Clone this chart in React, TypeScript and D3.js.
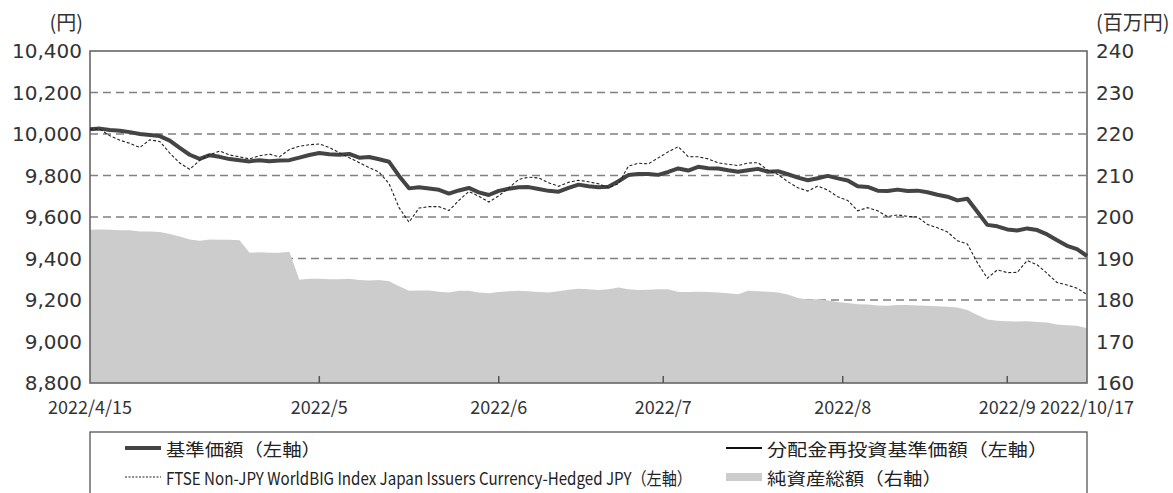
import React, { useRef, useEffect } from 'react';
import * as d3 from 'd3';

// 基準価額 (yen), one value per plotted day
const navValues = [
  10023, 10026, 10019, 10016, 10009, 10000, 9995, 9990, 9968, 9933,
  9900, 9880, 9898, 9890, 9879, 9873, 9868, 9874, 9869, 9872,
  9874, 9886, 9899, 9908, 9902, 9900, 9904, 9886, 9889, 9878,
  9866, 9798, 9738, 9743, 9737, 9731, 9713, 9728, 9740, 9719,
  9706, 9726, 9736, 9743, 9744, 9735, 9726, 9722, 9740, 9756,
  9748, 9743, 9746, 9772, 9802, 9807, 9807, 9803, 9817, 9834,
  9824, 9842, 9835, 9834, 9825, 9818, 9825, 9832, 9818, 9821,
  9806, 9790, 9777, 9787, 9798, 9786, 9776, 9748, 9745, 9727,
  9725, 9732, 9725, 9727, 9719, 9707, 9698, 9680, 9688, 9625,
  9562, 9555, 9540, 9535, 9545, 9537, 9516, 9488, 9461, 9445,
  9412,
];

// 分配金再投資基準価額: no distributions in the period, so it sits on the NAV
const reinvestValues = navValues;

// FTSE Non-JPY WorldBIG Index Japan Issuers Currency-Hedged JPY (rebased)
const indexValues = [
  10024, 10023, 9991, 9970, 9955, 9935, 9972, 9964, 9908, 9860,
  9830, 9873, 9900, 9918, 9899, 9890, 9880, 9895, 9903, 9890,
  9925, 9941, 9948, 9952, 9935, 9910, 9886, 9862, 9838, 9816,
  9760, 9645, 9575, 9643, 9650, 9650, 9631, 9680, 9723, 9700,
  9672, 9702, 9740, 9781, 9792, 9788, 9765, 9748, 9767, 9777,
  9770, 9760, 9741, 9760, 9845, 9859, 9856, 9885, 9914, 9939,
  9891, 9890, 9880, 9861, 9854, 9848, 9860, 9862, 9825, 9805,
  9770, 9741, 9725, 9749, 9730, 9697, 9680, 9630, 9645, 9630,
  9602, 9610, 9603, 9600, 9564, 9548, 9528, 9486, 9470, 9380,
  9305, 9345, 9332, 9333, 9390, 9370, 9328, 9284, 9272, 9257,
  9226,
];

// 純資産総額 (million yen, right axis)
const netAssets = [
  196.9, 197.0, 196.9, 196.8, 196.8, 196.5, 196.5, 196.4, 195.9, 195.3,
  194.6, 194.3, 194.6, 194.5, 194.5, 194.4, 191.4, 191.5, 191.4, 191.4,
  191.6, 184.9, 185.1, 185.1, 185.0, 185.0, 185.1, 184.8, 184.7, 184.8,
  184.5, 183.3, 182.2, 182.3, 182.3, 182.0, 181.8, 182.2, 182.2, 181.8,
  181.6, 181.9, 182.1, 182.2, 182.1, 181.9, 181.8, 182.1, 182.5, 182.7,
  182.6, 182.4, 182.6, 183.0, 182.6, 182.4, 182.5, 182.6, 182.6, 181.9,
  181.9, 182.0, 181.9, 181.8, 181.6, 181.4, 182.2, 182.1, 182.0, 181.8,
  181.3, 180.5, 180.1, 180.2, 179.9, 179.5, 179.3, 179.0, 178.9, 178.7,
  178.6, 178.8, 178.8, 178.7, 178.6, 178.5, 178.4, 178.2, 177.6, 176.4,
  175.3, 175.0, 174.9, 174.8, 174.9, 174.7, 174.6, 174.1, 173.9, 173.8,
  173.2,
];

// x-axis labels and where they sit along the series (index)
const xTickLabels = ['2022/4/15', '2022/5', '2022/6', '2022/7', '2022/8', '2022/9', '2022/10/17'];
const xTickIndex = [0, 23, 41, 57.5, 75.5, 92, 100];

const leftTicks = [8800, 9000, 9200, 9400, 9600, 9800, 10000, 10200, 10400];
const rightTicks = [160, 170, 180, 190, 200, 210, 220, 230, 240];

const legendLabels = [
  '基準価額（左軸）',
  '分配金再投資基準価額（左軸）',
  'FTSE Non-JPY WorldBIG Index Japan Issuers Currency-Hedged JPY（左軸）',
  '純資産総額（右軸）',
];

const WIDTH = 1173;
const HEIGHT = 493;
const JP = "'Noto Sans CJK JP', 'Noto Sans', sans-serif";

const FundChart: React.FC = () => {
  const svgRef = useRef<SVGSVGElement>(null);

  useEffect(() => {
    if (!svgRef.current) return;
    d3.select(svgRef.current).selectAll('*').remove();
    const svg = d3.select(svgRef.current);

    const left = 90;
    const right = 1087;
    const top = 51;
    const bottom = 383;

    const x = d3.scaleLinear().domain([0, navValues.length - 1]).range([left, right]);
    const yL = d3.scaleLinear().domain([8800, 10400]).range([bottom, top]);
    const yR = d3.scaleLinear().domain([160, 240]).range([bottom, top]);
    const fmt = d3.format(',');

    // dashed grid (inner ticks only)
    leftTicks.slice(1, -1).forEach(t => {
      svg.append('line')
        .attr('x1', left).attr('x2', right)
        .attr('y1', yL(t)).attr('y2', yL(t))
        .attr('stroke', '#808080')
        .attr('stroke-width', 1.7)
        .attr('stroke-dasharray', '8,5');
    });

    // net assets area
    const area = d3.area<number>()
      .x((_, i) => x(i))
      .y0(bottom)
      .y1(d => yR(d));
    svg.append('path')
      .attr('d', area(netAssets) as string)
      .attr('fill', '#cccccc');

    // frame
    svg.append('rect')
      .attr('x', left).attr('y', top)
      .attr('width', right - left).attr('height', bottom - top)
      .attr('fill', 'none')
      .attr('stroke', '#666')
      .attr('stroke-width', 1.6);

    // x ticks (inside, from the bottom)
    xTickIndex.slice(1, -1).forEach(t => {
      svg.append('line')
        .attr('x1', x(t)).attr('x2', x(t))
        .attr('y1', bottom).attr('y2', bottom - 7)
        .attr('stroke', '#555')
        .attr('stroke-width', 1.5);
    });

    const line = d3.line<number>()
      .x((_, i) => x(i))
      .y(d => yL(d));

    svg.append('path')
      .attr('d', line(reinvestValues) as string)
      .attr('fill', 'none')
      .attr('stroke', '#111')
      .attr('stroke-width', 1.5);

    svg.append('path')
      .attr('d', line(navValues) as string)
      .attr('fill', 'none')
      .attr('stroke', '#444')
      .attr('stroke-width', 4)
      .attr('stroke-linejoin', 'round');

    svg.append('path')
      .attr('d', line(indexValues) as string)
      .attr('fill', 'none')
      .attr('stroke', '#222')
      .attr('stroke-width', 1.1)
      .attr('stroke-dasharray', '3,2');

    // axis labels
    leftTicks.forEach(t => {
      svg.append('text')
        .attr('x', 82).attr('y', yL(t))
        .attr('text-anchor', 'end')
        .attr('dominant-baseline', 'central')
        .attr('font-family', "'DejaVu Sans', sans-serif")
        .attr('font-size', 20)
        .attr('fill', '#333')
        .text(fmt(t));
    });
    rightTicks.forEach(t => {
      svg.append('text')
        .attr('x', 1096).attr('y', yR(t))
        .attr('text-anchor', 'start')
        .attr('dominant-baseline', 'central')
        .attr('font-family', "'DejaVu Sans', sans-serif")
        .attr('font-size', 20)
        .attr('fill', '#333')
        .text(String(t));
    });
    xTickIndex.forEach((t, i) => {
      svg.append('text')
        .attr('x', x(t)).attr('y', 406)
        .attr('text-anchor', 'middle')
        .attr('dominant-baseline', 'central')
        .attr('font-family', JP)
        .attr('font-size', 18)
        .attr('fill', '#333')
        .text(xTickLabels[i]);
    });

    // units
    svg.append('text')
      .attr('x', 83).attr('y', 21)
      .attr('text-anchor', 'end')
      .attr('dominant-baseline', 'central')
      .attr('font-family', JP)
      .attr('font-size', 20)
      .attr('fill', '#333')
      .text('(円)');
    svg.append('text')
      .attr('x', 1096).attr('y', 21)
      .attr('text-anchor', 'start')
      .attr('dominant-baseline', 'central')
      .attr('font-family', JP)
      .attr('font-size', 20)
      .attr('fill', '#333')
      .text('(百万円)');

    // legend
    svg.append('rect')
      .attr('x', left).attr('y', 432)
      .attr('width', right - left).attr('height', 90)
      .attr('fill', 'none')
      .attr('stroke', '#555')
      .attr('stroke-width', 1.3);

    const row1 = 448;
    const row2 = 477;
    const col1 = 125;
    const col2 = 726;
    const sw = 36;

    const legend = svg.append('g');
    legend.append('line')
      .attr('x1', col1).attr('x2', col1 + sw).attr('y1', row1).attr('y2', row1)
      .attr('stroke', '#444').attr('stroke-width', 4);
    legend.append('line')
      .attr('x1', col2).attr('x2', col2 + sw).attr('y1', row1).attr('y2', row1)
      .attr('stroke', '#111').attr('stroke-width', 2);
    legend.append('line')
      .attr('x1', col1).attr('x2', col1 + sw).attr('y1', row2).attr('y2', row2)
      .attr('stroke', '#222').attr('stroke-width', 1.1).attr('stroke-dasharray', '2,1.5');
    legend.append('rect')
      .attr('x', col2).attr('y', row2 - 4).attr('width', sw).attr('height', 8)
      .attr('fill', '#cccccc');

    const legendPos: [number, number][] = [[col1, row1], [col2, row1], [col1, row2], [col2, row2]];
    const legendWidths = [155, 281, 526, 175];
    legendLabels.forEach((label, i) => {
      const [lx, ly] = legendPos[i];
      legend.append('text')
        .attr('x', lx + sw + 5).attr('y', ly)
        .attr('dominant-baseline', 'central')
        .attr('font-family', JP)
        .attr('font-size', 17.5)
        .attr('fill', '#222')
        .attr('textLength', legendWidths[i])
        .attr('lengthAdjust', 'spacingAndGlyphs')
        .text(label);
    });
  }, []);

  return (
    <svg
      ref={svgRef}
      width={WIDTH}
      height={HEIGHT}
      style={{ position: 'absolute', left: 0, top: 0, background: '#fff', display: 'block' }}
    />
  );
};

export default function App() {
  return <FundChart />;
}
